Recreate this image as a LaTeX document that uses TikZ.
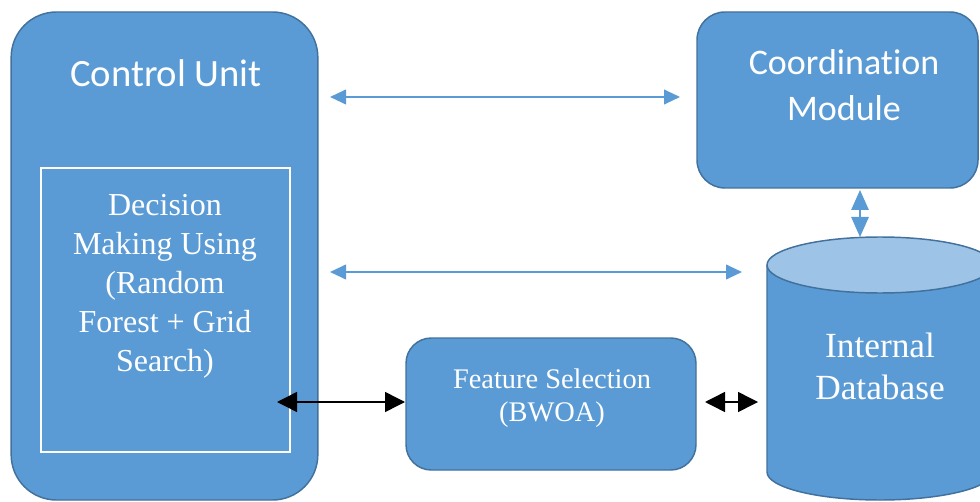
\documentclass[tikz,border=0pt]{standalone}
\usepackage{fontspec}
\setmainfont{Liberation Serif}
\newfontfamily\calibrifont[Ligatures={NoCommon}]{Carlito}
\usetikzlibrary{arrows.meta}
\definecolor{boxfill}{HTML}{5B9BD5}
\definecolor{boxline}{HTML}{41719C}
\definecolor{toplight}{HTML}{9DC3E6}
\tikzset{
  block/.style={draw=boxline, line width=1.1pt, fill=boxfill, inner sep=0pt},
  sanslabel/.style={text=white, align=center, font=\calibrifont\fontsize{27}{34}\selectfont},
  seriflabel/.style={text=white, align=center, font=\fontsize{24}{29.3}\selectfont},
  bluelink/.style={draw=boxfill, line width=1.5pt,
    {Triangle[length=12pt,width=11pt]}-{Triangle[length=12pt,width=11pt]}},
  blacklink/.style={draw=black, line width=1.1pt,
    {Triangle[length=15pt,width=15pt]}-{Triangle[length=15pt,width=15pt]}},
}
\begin{document}
\begin{tikzpicture}[x=0.75pt,y=0.75pt]
\useasboundingbox (0,0) rectangle (980,-502);
\clip (0,0) rectangle (980,-502);

% Control unit with its decision-making block
\node[block, rounded corners=34pt, minimum width=230pt, minimum height=366pt]
  (cu) at (164.5,-256) {};
\node[sanslabel, font=\calibrifont\fontsize{29}{34}\selectfont] (cutitle) at (166,-73) {Control Unit};
\node[draw=white, line width=0.8pt, minimum width=186.75pt, minimum height=213pt]
  (dmbox) at (165.5,-310) {};
\node[seriflabel] (dm) at (165,-286)
  {Decision\\Making Using\\(Random\\Forest + Grid\\Search)};

% Coordination module
\node[block, rounded corners=21pt, minimum width=210.75pt, minimum height=132pt]
  (cm) at (837.5,-100) {};
\node[sanslabel] (cmtext) at (844,-85) {Coordination\\Module};

% Feature selection
\node[block, rounded corners=19pt, minimum width=217.5pt, minimum height=99pt]
  (fs) at (551,-404) {};
\node[seriflabel, font=\fontsize{21.3}{25}\selectfont] (fstext) at (552,-398)
  {Feature Selection\\(BWOA)};

% Internal database (cylinder)
\path[fill=boxfill, draw=boxline, line width=1.1pt]
  (767,-265) -- (767,-472)
  arc[start angle=180, end angle=360, x radius=113, y radius=28]
  -- (993,-265);
\path[fill=toplight, draw=boxline, line width=1.1pt]
  (880,-265) ellipse[x radius=113, y radius=28];
\node[seriflabel, font=\fontsize{26.5}{31.5}\selectfont] (db) at (880,-366)
  {Internal\\Database};

% Connector end points
\coordinate (cuA) at (330,-97);
\coordinate (cmA) at (680,-97);
\coordinate (cuB) at (330,-272);
\coordinate (dbA) at (742,-272);
\coordinate (cmB) at (860,-190);
\coordinate (dbTop) at (860,-237);
\coordinate (dmPort) at (277,-402);
\coordinate (fsL) at (405,-402);
\coordinate (fsR) at (705,-402);
\coordinate (dbB) at (758,-402);

% Connectors
\draw[bluelink] (cuA) -- (cmA);
\draw[bluelink] (cuB) -- (dbA);
\draw[bluelink, {Triangle[length=15pt,width=13pt]}-{Triangle[length=15pt,width=13pt]}]
  (cmB) -- (dbTop);
\draw[blacklink] (dmPort) -- (fsL);
\draw[blacklink] (fsR) -- (dbB);
\end{tikzpicture}
\end{document}
